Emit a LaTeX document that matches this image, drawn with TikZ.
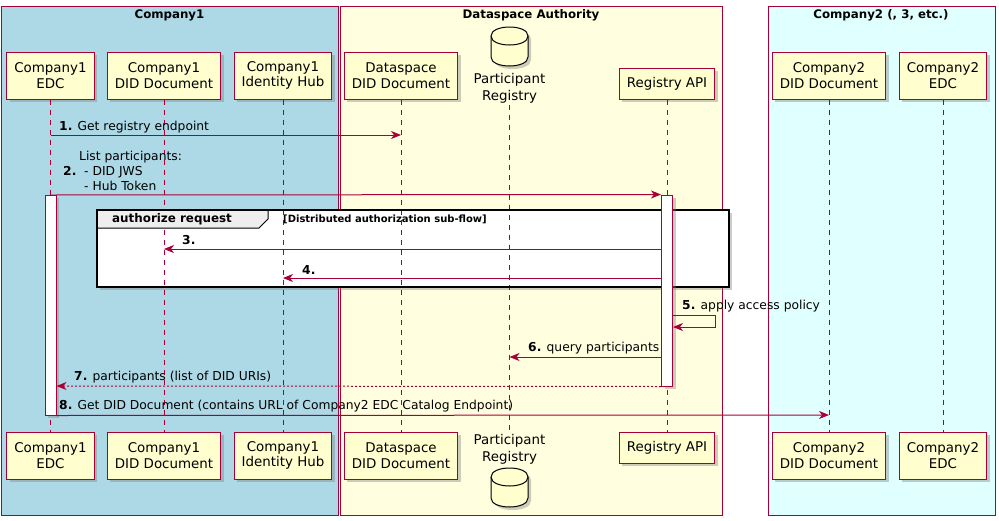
\documentclass[tikz,border=0pt]{standalone}
\usepackage{fontspec}
\setmainfont{DejaVu Sans}
\usetikzlibrary{arrows.meta,shadows}
\definecolor{umlred}{HTML}{A80036}
\definecolor{umlpart}{HTML}{FEFECE}
\definecolor{boxblue}{HTML}{ADD8E6}
\definecolor{boxyellow}{HTML}{FFFFE0}
\definecolor{boxcyan}{HTML}{E0FFFF}
\definecolor{grouphead}{HTML}{EEEEEE}

\tikzset{
  umlshadow/.style={drop shadow={shadow xshift=3pt,shadow yshift=-3pt,opacity=0.4}},
  part/.style={draw=umlred,line width=1pt,fill=umlpart,umlshadow,align=center,
    font=\fontsize{13.4}{15.5}\selectfont,inner xsep=7.5pt,inner ysep=0pt,minimum height=47pt},
  partone/.style={part,minimum height=31pt},
  dbtext/.style={align=center,font=\fontsize{13.4}{17}\selectfont,inner sep=1pt},
  life/.style={draw=umlred,line width=0.8pt,dash pattern=on 5pt off 5pt},
  act/.style={draw=umlred,line width=1pt,fill=white,umlshadow,minimum width=11pt,inner sep=0pt},
  msg/.style={draw=umlred,line width=1pt,-{Stealth[length=10pt,width=8pt,inset=3pt]}},
  lbl/.style={anchor=west,inner sep=0pt,font=\fontsize{12.3}{15}\selectfont},
  boxtitle/.style={font=\bfseries\fontsize{11.8}{14}\selectfont,inner sep=0pt},
  grp/.style={fill=#1,draw=umlred,line width=1pt}
}

\begin{document}
\begin{tikzpicture}[x=1pt,y=-1pt]
\useasboundingbox (0,0) rectangle (999,520);

% boxes
\draw[grp=boxblue] (1,6) rectangle (338,515);
\draw[grp=boxyellow] (340,6) rectangle (722,515);
\draw[grp=boxcyan] (768,6) rectangle (995,515);
\node[boxtitle] (t1) at (169.5,15) {Company1};
\node[boxtitle] (t2) at (531,15) {Dataspace Authority};
\node[boxtitle] (t3) at (881,15) {Company2 (, 3, etc.)};

% database
\foreach \t in {36,477} {
  \draw[line width=1pt,fill=umlpart,umlshadow] (491,\t) -- (491,\t+21)
    .. controls (491,\t+33) and (528,\t+33) .. (528,\t+21) -- (528,\t)
    .. controls (528,\t-12) and (491,\t-12) .. (491,\t) -- cycle;
  \draw[line width=1pt] (491,\t) .. controls (491,\t+12) and (528,\t+12) .. (528,\t);
}

% participants, top and bottom
\foreach \s/\y/\yr/\ya in {t/75.5/88.5/83.5, b/455.5/449/447.5} {
  \node[part] (edc\s) at (50.5,\y) {Company1\\EDC};
  \node[part] (cdid\s) at (164,\y) {Company1\\DID Document};
  \node[part] (hub\s) at (283,\y) {Company1\\Identity Hub};
  \node[part] (dsdid\s) at (401,\y) {Dataspace\\DID Document};
  \node[dbtext] (reg\s) at (509.5,\yr) {Participant\\Registry};
  \node[partone] (api\s) at (667,\ya) {Registry API};
  \node[part] (ctwodid\s) at (829,\y) {Company2\\DID Document};
  \node[part] (ctwoedc\s) at (943,\y) {Company2\\EDC};
}

% group body
\draw[line width=1.5pt,fill=white,umlshadow] (97,210) rectangle (729,287);

% lifelines
\foreach \p in {edc,cdid,hub,dsdid,reg,api,ctwodid,ctwoedc}
  \draw[life] (\p t.south) -- (\p b.north);

% group header
\draw[line width=1pt,fill=grouphead] (97,210) -- (268,210) -- (268,219) -- (259,228) -- (97,228) -- cycle;
\draw[line width=1.5pt] (97,210) rectangle (729,287);
\node[anchor=west,inner sep=0pt,font=\bfseries\fontsize{11.9}{14}\selectfont] (gname) at (112,219.5) {authorize request};
\node[anchor=west,inner sep=0pt,font=\bfseries\fontsize{10}{12}\selectfont] (gguard) at (283,219) {[Distributed authorization sub-flow]};

% activations
\node[act,minimum height=220pt] (edcact) at (edct |- 0,305) {};
\node[act,minimum height=191pt] (apiact) at (apit |- 0,290.5) {};

% messages
\draw[msg] (edct |- 0,135) -- (dsdidt |- 0,135);
\draw[msg] (edct |- 0,195) -- (apiact.north west);
\draw[msg] (apiact.west |- 0,249) -- (cdidt |- 0,249);
\draw[msg] (apiact.west |- 0,278) -- (hubt |- 0,278);
\draw[msg] (apiact.east |- 0,315) -- ++(42,0) -- ++(0,12) -- (apiact.east |- 0,327);
\draw[msg] (apiact.west |- 0,357) -- (regt |- 0,357);
\draw[msg,dash pattern=on 2pt off 2pt] (apiact.south west) -- (edcact.east |- 0,386);
\draw[msg] (edcact.south east) -- (ctwodidt |- 0,415);

\node[lbl] (l1) at (59,127) {\textbf{1.} Get registry endpoint};
\node[lbl] (l2n) at (63,171) {\textbf{2.}};
\node[lbl,align=left] (l2) at (79,171) {List participants:\\\hspace*{5pt}- DID JWS\\\hspace*{5pt}- Hub Token};
\node[lbl] (l3) at (182,240) {\textbf{3.}};
\node[lbl] (l4) at (302,270) {\textbf{4.}};
\node[lbl] (l5) at (682,306) {\textbf{5.} apply access policy};
\node[lbl] (l6) at (528,348) {\textbf{6.} query participants};
\node[lbl] (l7) at (74,377) {\textbf{7.} participants (list of DID URIs)};
\node[lbl] (l8) at (59,406.5) {\textbf{8.} Get DID Document (contains URL of Company2 EDC Catalog Endpoint)};
\end{tikzpicture}
\end{document}
